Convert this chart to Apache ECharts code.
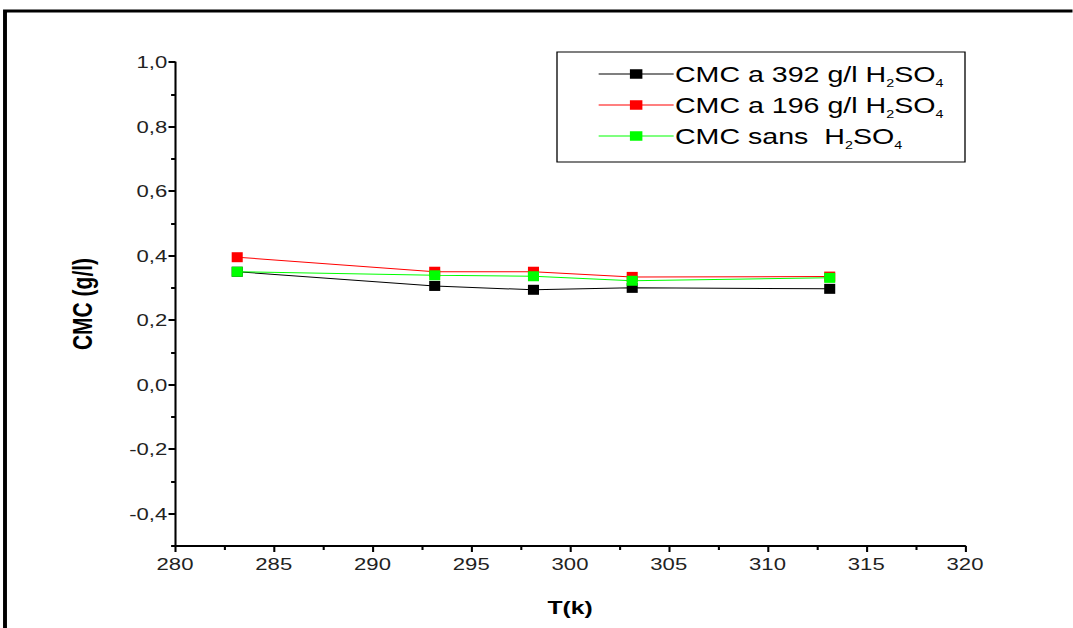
<!DOCTYPE html>
<html>
<head>
<meta charset="utf-8">
<script src="https://cdn.jsdelivr.net/npm/echarts@6/dist/echarts.min.js"></script>
<style>
  html, body { margin: 0; padding: 0; background: #fff; }
  #wrap { width: 1073px; height: 628px; overflow: hidden; position: relative; background: #fff; }
  /* the figure is drawn narrower and widened horizontally */
  #chart { position: absolute; left: 0; top: 0; transform-origin: 0 0; }
</style>
</head>
<body>
<div id="wrap"><div id="chart"></div></div>
<script>
// Temperature (K) at which the CMC was measured
const temperatures = [283.15, 293.15, 298.15, 303.15, 313.15];

// CMC (g/l) for each medium
const cmc392 = [0.350, 0.306, 0.294, 0.300, 0.297];
const cmc196 = [0.395, 0.350, 0.350, 0.334, 0.335];
const cmcSans = [0.350, 0.339, 0.336, 0.322, 0.331];

// Series names and their legend text (subscripts via rich text)
const seriesNames = ['CMC a 392 g/l H2SO4', 'CMC a 196 g/l H2SO4', 'CMC sans  H2SO4'];
const legendLabels = [
  'CMC a 392 g/l H{sub|2}SO{sub|4}',
  'CMC a 196 g/l H{sub|2}SO{sub|4}',
  'CMC sans  H{sub|2}SO{sub|4}'
];
const seriesColors = ['#000000', '#ff0000', '#00ff00'];

// Axis ticks
const yLabelValues = [-0.4, -0.2, 0.0, 0.2, 0.4, 0.6, 0.8, 1.0];
const xMin = 280, xMax = 320, xStep = 5;
const yMin = -0.5, yMax = 1.0;

const FONT = '"Liberation Sans", Arial, sans-serif';

// horizontal widening of the whole figure
const SX = 1.3;
const innerW = 1073 / SX;
const innerH = 628;
const px = v => v / SX;     // page x -> drawing x

const el = document.getElementById('chart');
el.style.width = innerW + 'px';
el.style.height = innerH + 'px';
el.style.transform = 'scaleX(' + SX + ')';

function pairs(values) {
  return temperatures.map((t, i) => [t, values[i]]);
}

const chart = echarts.init(el, null, { renderer: 'svg', width: innerW, height: innerH });

const seriesData = [cmc392, cmc196, cmcSans];

chart.setOption({
  backgroundColor: '#ffffff',
  animation: false,
  grid: { left: px(175), right: innerW - px(965), top: 62, bottom: innerH - 546 },
  legend: {
    orient: 'vertical',
    left: px(598),
    top: 63,
    itemWidth: px(75),
    itemHeight: 12,
    itemGap: 5,
    padding: 0,
    data: seriesNames,
    lineStyle: { width: 1 },
    formatter: name => legendLabels[seriesNames.indexOf(name)],
    textStyle: {
      fontFamily: FONT,
      fontSize: 22,
      color: '#000',
      padding: [0, 0, 0, -4],
      rich: {
        sub: { fontFamily: FONT, fontSize: 11, color: '#000', padding: [19, 0, 0, 0] }
      }
    }
  },
  graphic: [
    {
      // page frame: top and left edges
      type: 'polyline',
      shape: { points: [[px(5), innerH + 10], [px(5), 11], [innerW + 10, 11]] },
      style: { fill: null, stroke: '#000', lineWidth: 3 },
      silent: true
    },
    {
      type: 'rect',
      shape: { x: px(557), y: 52, width: px(408), height: 110 },
      style: { fill: '#fff', stroke: '#000', lineWidth: 1 },
      z: -1,
      silent: true
    }
  ],
  xAxis: {
    type: 'value',
    min: xMin,
    max: xMax,
    interval: xStep,
    name: 'T(k)',
    nameLocation: 'middle',
    nameGap: 52,
    nameTextStyle: { fontFamily: FONT, fontSize: 19, fontWeight: 'bold', color: '#000' },
    axisLine: { show: true, onZero: false, lineStyle: { color: '#000', width: 2 } },
    axisTick: { show: true, inside: false, length: 6, lineStyle: { color: '#000', width: 1.6 } },
    minorTick: { show: true, splitNumber: 2, length: 4, lineStyle: { color: '#000', width: 1.6 } },
    axisLabel: { fontFamily: FONT, fontSize: 17, color: '#222', margin: 9 },
    splitLine: { show: false }
  },
  yAxis: [
    {
      // minor ticks every 0.1
      type: 'value',
      min: yMin,
      max: yMax,
      interval: 0.1,
      axisLine: { show: true, onZero: false, lineStyle: { color: '#000', width: 1.6 } },
      axisTick: { show: true, inside: false, length: 3, lineStyle: { color: '#000', width: 2 } },
      axisLabel: { show: false },
      splitLine: { show: false }
    },
    {
      // labelled ticks every 0.2
      type: 'value',
      min: yMin,
      max: yMax,
      position: 'left',
      name: 'CMC (g/l)',
      nameLocation: 'middle',
      nameGap: 61,
      nameRotate: 90,
      nameTextStyle: { fontFamily: FONT, fontSize: 21, fontWeight: 'bold', color: '#000' },
      axisLine: { show: false },
      axisTick: { show: true, inside: false, length: 5, customValues: yLabelValues, lineStyle: { color: '#000', width: 2 } },
      axisLabel: {
        fontFamily: FONT, fontSize: 17, color: '#222', margin: 6,
        customValues: yLabelValues,
        formatter: v => v.toFixed(1).replace('.', ',')
      },
      splitLine: { show: false }
    }
  ],
  series: seriesNames.map((name, i) => ({
    name: name,
    type: 'line',
    data: pairs(seriesData[i]),
    symbol: 'rect',
    symbolSize: [8.5, 10],
    showSymbol: true,
    color: seriesColors[i],
    lineStyle: { color: seriesColors[i], width: 1 },
    itemStyle: { color: seriesColors[i] },
    z: 2 + i
  }))
});
</script>
</body>
</html>
